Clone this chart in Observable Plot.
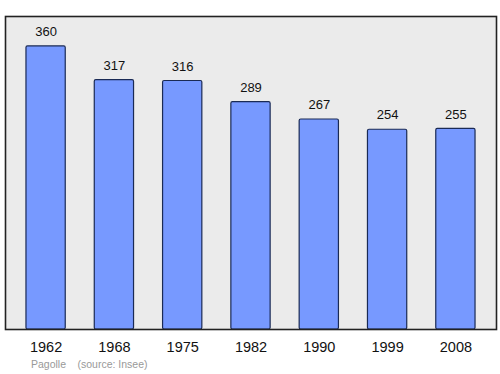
<!DOCTYPE html>
<html>
<head>
<meta charset="utf-8">
<script src="https://cdn.jsdelivr.net/npm/d3@7"></script>
<script src="https://cdn.jsdelivr.net/npm/@observablehq/plot@0.6"></script>
<style>
  body { margin: 0; background: #fff; }
  #chart svg { display: block; }
</style>
</head>
<body>
<div id="chart"></div>
<script>
const years = ["1962", "1968", "1975", "1982", "1990", "1999", "2008"];
const population = [360, 317, 316, 289, 267, 254, 255];
const captionCommune = "Pagolle";
const captionSource = "(source: Insee)";

const data = years.map((y, i) => ({year: y, value: population[i]}));

const chart = Plot.plot({
  width: 500,
  height: 374,
  marginLeft: 5,
  marginRight: 4,
  marginTop: 16,
  marginBottom: 45,
  style: {fontFamily: "'Liberation Sans', Arial, sans-serif", background: "#fff", overflow: "visible"},
  x: {type: "band", domain: years, paddingInner: 0.425, paddingOuter: 0.307, round: false, label: null},
  y: {domain: [0, 398], axis: null},
  marks: [
    Plot.frame({fill: "#ebebeb", stroke: null}),
    Plot.barY(data, {x: "year", y: "value", fill: "#7799ff", stroke: "#1a2a55", strokeWidth: 1.2, rx: 1.5}),
    Plot.text(data, {x: "year", y: "value", text: d => String(d.value), dy: -14.5, fontSize: 13, fill: "#111"}),
    Plot.frame({stroke: "#222", strokeWidth: 1.6}),
    Plot.axisX({tickSize: 0, tickPadding: 12, fontSize: 14.5, color: "#111"}),
    Plot.text([captionCommune], {frameAnchor: "bottom-left", lineAnchor: "middle", text: d => d, dx: 25.5, dy: 35.5, fontSize: 10.5, fill: "#999", textAnchor: "start"}),
    Plot.text([captionSource], {frameAnchor: "bottom-left", lineAnchor: "middle", text: d => d, dx: 72, dy: 35.5, fontSize: 10.5, fill: "#999", textAnchor: "start"})
  ]
});
document.getElementById("chart").append(chart);
</script>
</body>
</html>
